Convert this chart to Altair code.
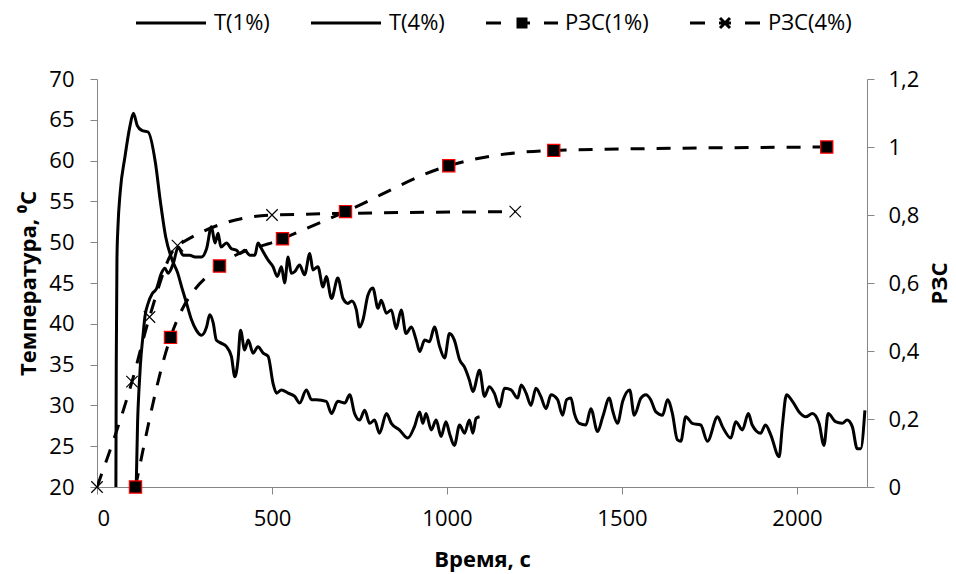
import altair as alt
import pandas as pd

FONT = "Open Sans"
AXIS_GREY = "#868686"

# Temperature, 1 % additive (time in s, temperature in deg C)
t1_time = [112, 116, 120, 124, 132, 137, 146, 158, 170, 184, 194, 203, 218, 232, 246,
           265, 280, 299, 313, 327, 337, 346, 354, 370, 384, 399, 408, 422, 437, 451,
           460, 470, 489, 503, 515, 527, 536, 546, 555, 565, 579, 593, 608, 617, 631,
           646, 655, 670, 688, 703, 717, 728, 741, 750, 760, 774, 788, 803, 812, 827,
           841, 855, 869, 883, 898, 912, 922, 936, 950, 964, 979, 993, 1007, 1021, 1036,
           1050, 1064, 1074, 1093, 1107, 1121, 1135, 1150, 1164, 1183, 1202, 1212, 1226,
           1240, 1254, 1268, 1283, 1297, 1316, 1330, 1342, 1354, 1364, 1378, 1397, 1411,
           1430, 1445, 1464, 1473, 1487, 1502, 1522, 1535, 1554, 1568, 1582, 1597, 1616,
           1630, 1644, 1658, 1668, 1682, 1701, 1725, 1744, 1773, 1787, 1811, 1825, 1844,
           1861, 1872, 1896, 1910, 1925, 1949, 1958, 1970, 1987, 2006, 2025, 2044, 2063,
           2077, 2089, 2110, 2129, 2143, 2158, 2172, 2182, 2194]
t1_temp = [20, 28, 32, 35, 38.8, 40.9, 42.5, 43.7, 44.3, 46.2, 46.8, 46.2, 47.4, 49.4, 48.4,
           48.4, 48.2, 48.2, 49.2, 51.9, 49.9, 51.1, 49.4, 49.9, 49.2, 49.0, 48.6, 49.0, 48.4, 48.4,
           49.9, 49.2, 47.8, 47.0, 45.8, 47.0, 45.0, 48.2, 46.2, 46.4, 47.2, 46.0, 48.6, 46.6, 47.0,
           44.5, 45.8, 43.1, 45.6, 43.1, 42.5, 42.8, 41.7, 39.6, 40.5, 43.5, 44.4, 41.9, 42.9, 41.3,
           41.7, 39.4, 41.7, 38.8, 39.6, 38.0, 36.6, 38.0, 37.8, 39.6, 37.2, 35.8, 38.8, 38.0, 35.6,
           34.7, 33.1, 31.7, 34.3, 31.1, 32.3, 31.5, 29.8, 32.1, 31.9, 30.9, 32.5, 31.5,
           30.0, 32.1, 31.1, 29.6, 31.3, 30.7, 28.8, 30.7, 30.9, 29.0, 27.8, 27.6, 29.6,
           26.8, 28.6, 30.9, 29.4, 27.8, 30.5, 31.9, 28.8, 30.9, 31.3, 30.7, 29.2, 28.8,
           30.7, 29.0, 25.8, 25.6, 28.6, 27.8, 27.6, 25.6, 28.6, 27.4, 26.0, 28.0, 27.0,
           29.0, 27.6, 26.6, 27.6, 26.4, 23.7, 27.4, 31.3, 30.5, 29.2, 28.6, 29.0, 27.8,
           25.1, 29.0, 28.0, 27.8, 28.2, 27.4, 24.7, 24.7, 29.4]

# Temperature, 4 % additive
t4_time = [54, 55, 57, 60, 66, 80, 94, 104, 115, 128, 146, 167, 181, 196, 215, 230, 242,
           256, 270, 284, 299, 313, 322, 332, 341, 356, 370, 384, 394, 403, 410, 422, 432,
           446, 460, 475, 489, 503, 513, 527, 546, 565, 579, 598, 613, 627, 655, 670, 688,
           708, 722, 736, 750, 765, 779, 793, 807, 827, 841, 864, 888, 907, 922, 931, 940,
           955, 969, 983, 997, 1007, 1021, 1036, 1050, 1064, 1074, 1083, 1093]
t4_temp = [20, 35, 48, 52, 56, 60.5, 64.2, 65.8, 64.3, 63.7, 63.5, 59.7, 55, 50.7, 47.8, 46.3, 44.5,
           42.5, 40.5, 39.2, 38.6, 39.6, 41.1, 40.1, 38.0, 37.6, 37.2, 36.0, 33.5, 35.6, 39.2, 36.8, 38.0,
           36.4, 37.2, 36.4, 36.0, 32.7, 31.5, 31.9, 31.5, 31.1, 30.3, 31.9, 30.7, 30.7, 30.5, 29.0, 30.5,
           30.3, 31.3, 29.0, 28.2, 29.4, 27.8, 28.2, 26.6, 29.0, 27.8, 27.0, 26.0, 27.4, 29.2, 27.8, 29.0,
           27.0, 28.2, 26.2, 28.0, 26.6, 25.1, 27.6, 26.6, 28.2, 26.6, 28.4, 28.6]

# РЗС measurements
rzs1_time = [110, 210, 350, 530, 710, 1005, 1305, 2085]
rzs1_val = [0, 0.44, 0.65, 0.73, 0.81, 0.945, 0.99, 1.0]
rzs4_time = [0, 100, 150, 230, 500, 1195]
rzs4_val = [0, 0.31, 0.5, 0.71, 0.8, 0.81]

series_names = ["T(1%)", "T(4%)", "РЗС(1%)", "РЗС(4%)"]
x_ticks = [0, 500, 1000, 1500, 2000]
temp_ticks = [20, 25, 30, 35, 40, 45, 50, 55, 60, 65, 70]
rzs_ticks = [0, 0.2, 0.4, 0.6, 0.8, 1.0, 1.2]

temp_df = pd.concat([
    pd.DataFrame({"series": series_names[0], "time": t1_time, "temp": t1_temp}),
    pd.DataFrame({"series": series_names[1], "time": t4_time, "temp": t4_temp}),
])
rzs1_df = pd.DataFrame({"series": series_names[2], "time": rzs1_time, "rzs": rzs1_val})
rzs4_df = pd.DataFrame({"series": series_names[3], "time": rzs4_time, "rzs": rzs4_val})
rzs_df = pd.concat([rzs1_df, rzs4_df])
legend_df = pd.DataFrame({"series": series_names})

x_enc = alt.X("time:Q",
              scale=alt.Scale(domain=[0, 2200], nice=False, zero=False),
              axis=alt.Axis(values=x_ticks, title="Время, с", format="d",
                            labelPadding=14, titlePadding=20))

temp_lines = alt.Chart(temp_df).mark_line(
    color="black", strokeWidth=3, interpolate="monotone", clip=True
).encode(
    x=x_enc,
    y=alt.Y("temp:Q",
            scale=alt.Scale(domain=[20, 70], nice=False, zero=False),
            axis=alt.Axis(values=temp_ticks, title="Температура, ⁰C",
                          labelPadding=16, titlePadding=8)),
    detail="series:N",
)

rzs_y = alt.Y("rzs:Q", scale=alt.Scale(domain=[0, 1.2], nice=False),
              axis=alt.Axis(values=rzs_ticks, title="РЗС", orient="right",
                            labelExpr="replace(format(datum.value, '.1~f'), '.', ',')",
                            labelPadding=14, titlePadding=33, titleAngle=270))

rzs_lines = alt.Chart(rzs_df).mark_line(
    color="black", strokeWidth=3, strokeDash=[14, 12], strokeCap="butt",
    interpolate="monotone", clip=True
).encode(x=x_enc, y=rzs_y, detail="series:N")

rzs1_points = alt.Chart(rzs1_df).mark_point(
    shape="square", size=150, filled=True, fill="black", stroke="#ff0000",
    strokeWidth=1.2, opacity=1
).encode(x=x_enc, y=rzs_y)

rzs4_points = alt.Chart(rzs4_df).mark_point(
    shape="M-1,-1L1,1M-1,1L1,-1", size=130, filled=False, stroke="black",
    strokeWidth=1.2, opacity=1
).encode(x=x_enc, y=rzs_y)

# Legend glyphs drawn with strokes only: solid line for temperature,
# dashed line with a (stroke-filled) square or a cross for РЗС
legend_shapes = [
    "M-7,0H7",
    "M-7,0H7",
    "M-7.2,0H-4.2M4.4,0H7.2M-1.1,0H1.6"
    "M-1.1,-0.8H1.1M-1.1,-0.4H1.1M-1.1,0.4H1.1M-1.1,0.8H1.1",
    "M-7,0H-4M-1.2,0H1.2M4,0H7M-1,-1L1,1M-1,1L1,-1",
]

# Carrier marks for the legend sit outside the clipped plot area
legend_layer = alt.Chart(legend_df).mark_point(
    stroke="black", strokeWidth=3, size=100, filled=False, clip=True
).encode(
    x=alt.value(-500),
    y=alt.value(-500),
    shape=alt.Shape("series:N",
                    scale=alt.Scale(domain=series_names, range=legend_shapes),
                    legend=alt.Legend(orient="none", legendX=63, legendY=-67,
                                      direction="horizontal", title=None,
                                      symbolSize=100, symbolStrokeWidth=3,
                                      symbolStrokeColor="black",
                                      symbolOpacity=1, labelFont=FONT, labelFontSize=22,
                                      labelColor="black", labelOffset=32,
                                      columnPadding=35)),
)

rzs_group = alt.layer(rzs_lines, rzs1_points, rzs4_points)

chart = alt.layer(temp_lines, rzs_group, legend_layer).resolve_scale(
    y="independent", shape="independent"
).properties(
    width=770, height=408,
    autosize=alt.AutoSizeParams(type="none"),
    padding={"left": 97, "top": 79, "right": 89, "bottom": 87},
).configure(
    font=FONT
).configure_axis(
    domainColor=AXIS_GREY, tickColor=AXIS_GREY, tickSize=7,
    labelFont=FONT, labelFontSize=22, labelColor="black",
    titleFont=FONT, titleFontSize=22, titleFontWeight="bold",
    titleColor="black", grid=False
).configure_view(stroke=None)

chart.save("out.html", embed_options={"renderer": "svg", "actions": False})
